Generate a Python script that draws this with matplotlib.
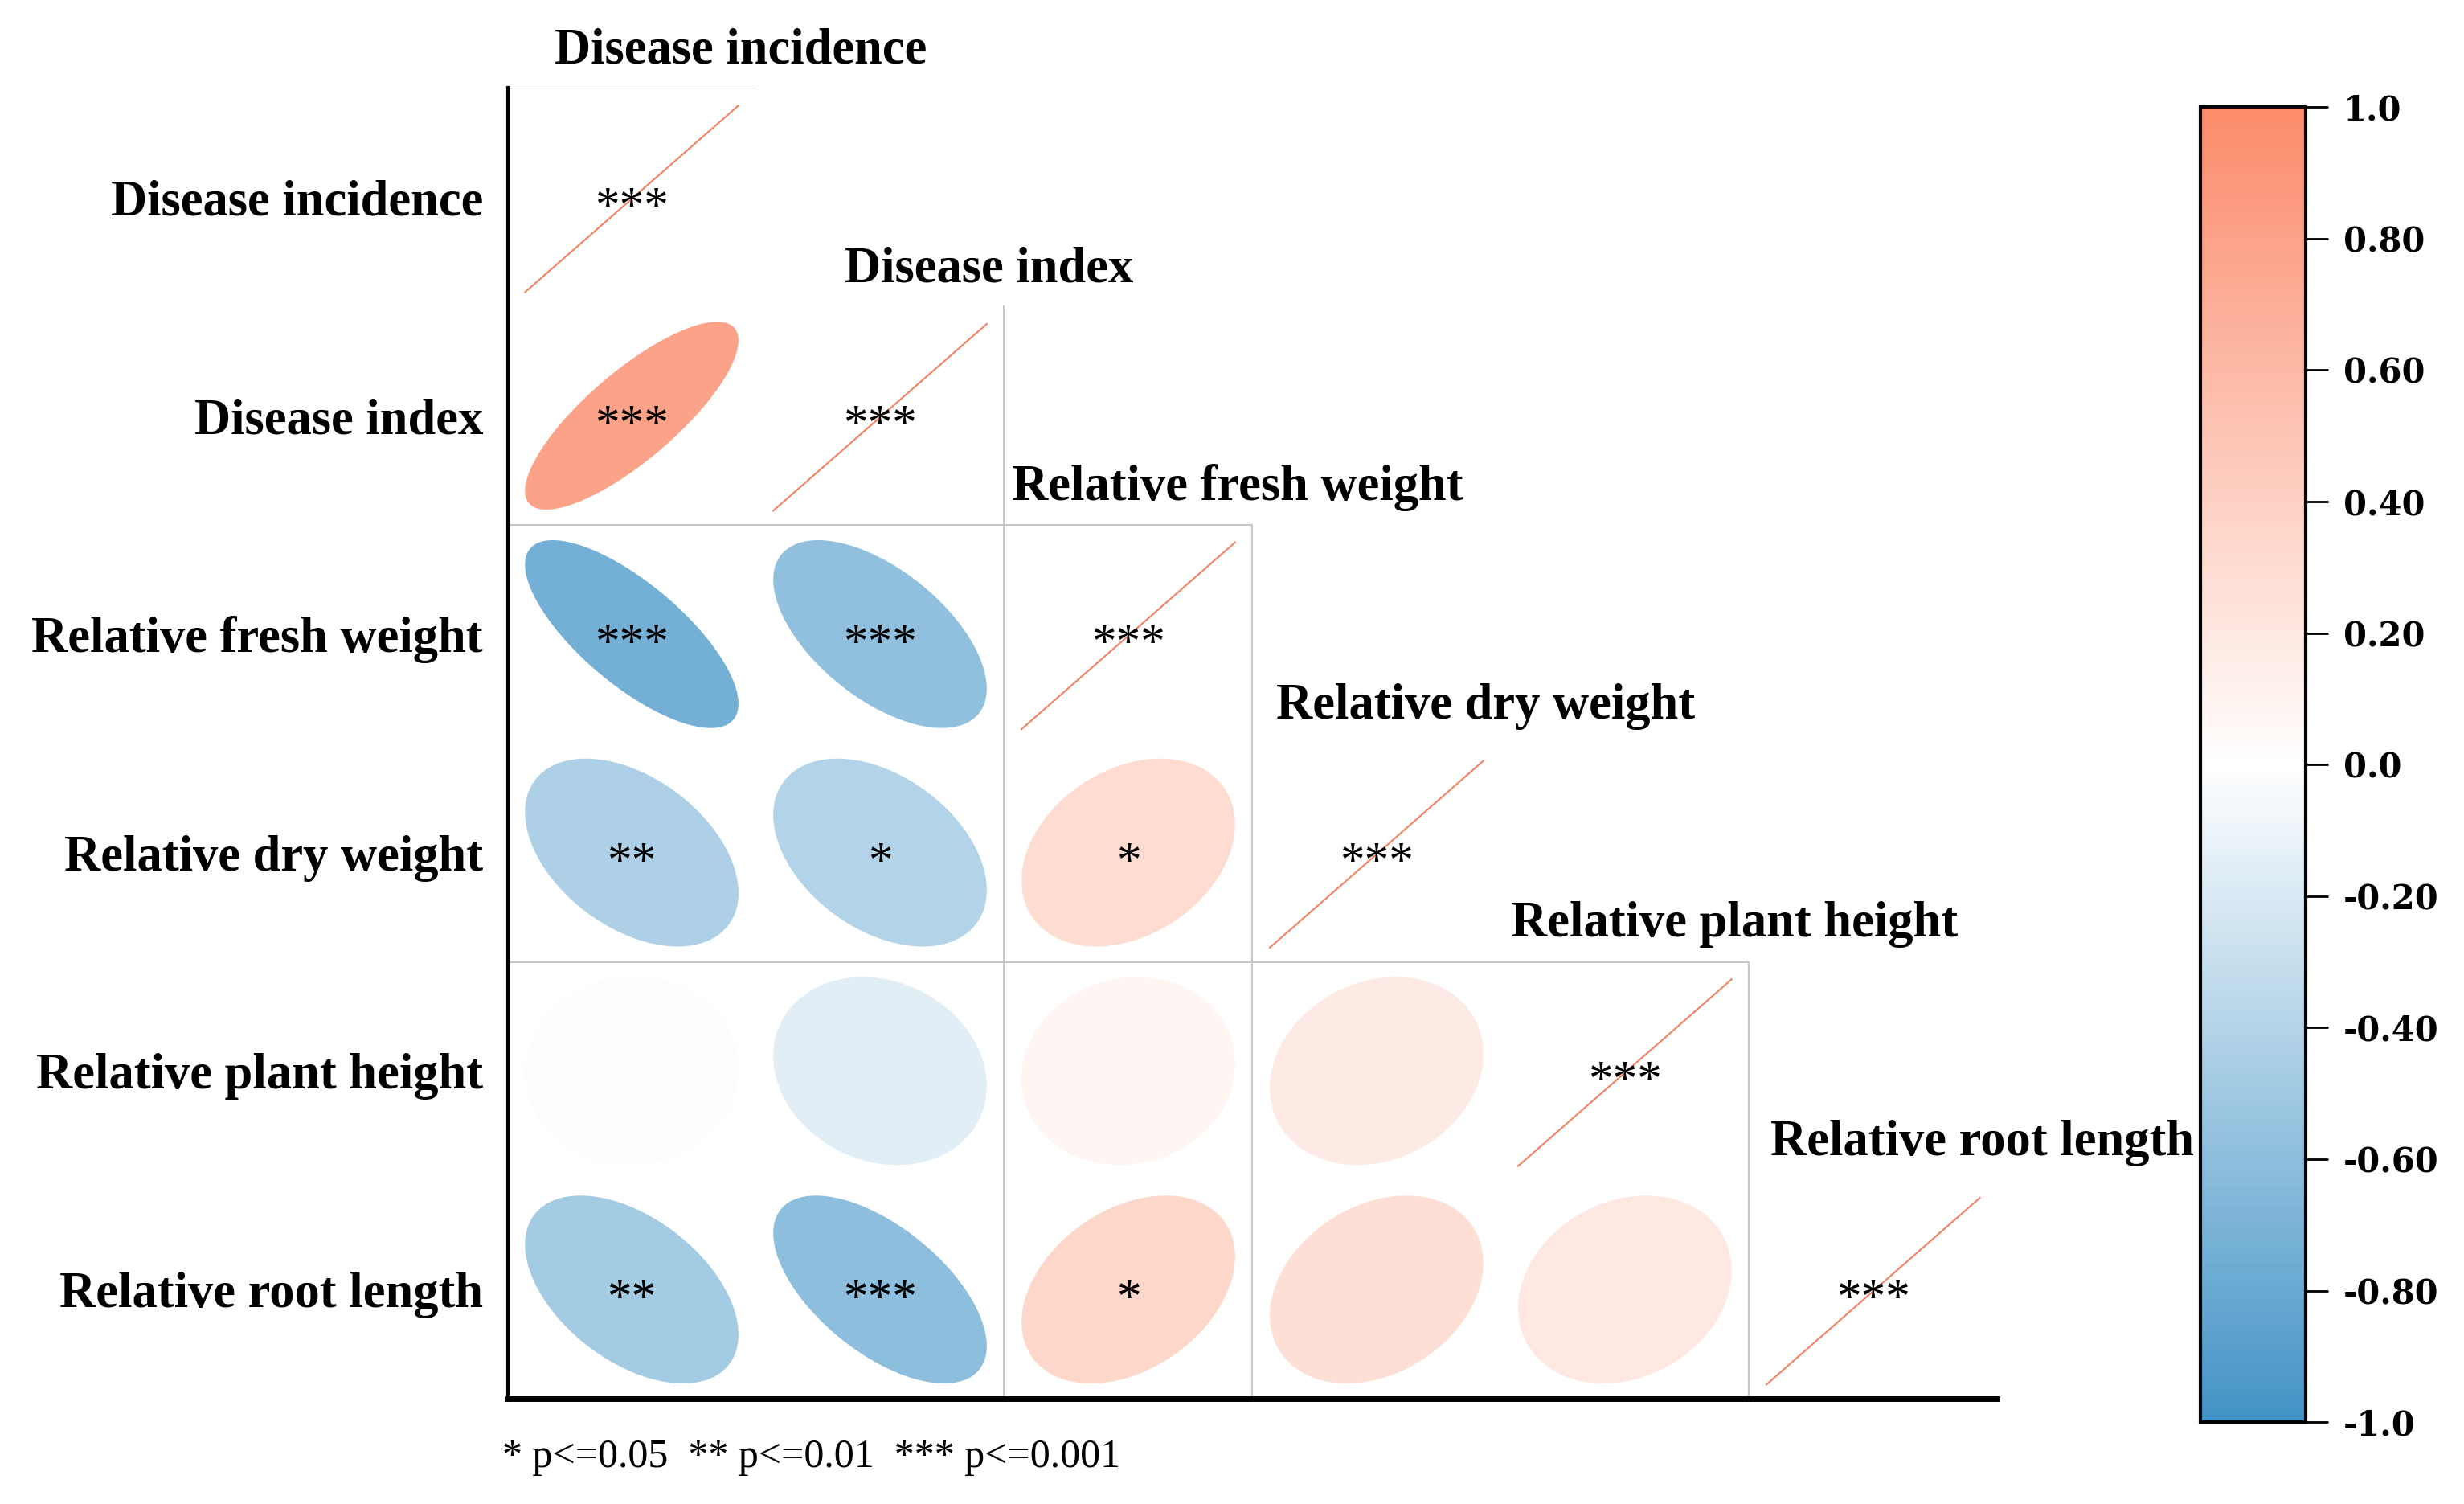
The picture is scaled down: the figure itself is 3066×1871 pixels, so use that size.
import numpy as np
import matplotlib
matplotlib.use("Agg")
import matplotlib.pyplot as plt
from matplotlib.patches import Polygon
from matplotlib.colors import LinearSegmentedColormap, Normalize
from matplotlib.cm import ScalarMappable

# variables (order of rows / columns)
labels = ["Disease incidence", "Disease index", "Relative fresh weight",
          "Relative dry weight", "Relative plant height", "Relative root length"]

# lower triangle of the correlation matrix (row i, columns 0..i)
corr = [
    [1.0],
    [0.80, 1.0],
    [-0.74, -0.58, 1.0],
    [-0.43, -0.40, 0.30, 1.0],
    [0.02, -0.16, 0.08, 0.18, 1.0],
    [-0.48, -0.60, 0.35, 0.28, 0.20, 1.0],
]
# significance marks
sig = [
    ["***"],
    ["***", "***"],
    ["***", "***", "***"],
    ["**", "*", "*", "***"],
    ["", "", "", "", "***"],
    ["**", "***", "*", "", "", "***"],
]
cbar_ticks = [-1.0, -0.8, -0.6, -0.4, -0.2, 0.0, 0.2, 0.4, 0.6, 0.8, 1.0]
cbar_labels = ["-1.0", "-0.80", "-0.60", "-0.40", "-0.20", "0.0",
               "0.20", "0.40", "0.60", "0.80", "1.0"]
note = "* p<=0.05  ** p<=0.01  *** p<=0.001"

cmap = LinearSegmentedColormap.from_list("corr", ["#4393c6", "#ffffff", "#fb8b6b"])
norm = Normalize(-1, 1)
serif = ["Liberation Serif", "DejaVu Serif"]

n = len(labels)
fig = plt.figure(figsize=(30.66, 18.71), dpi=100)
ax = fig.add_axes([0.206, 0.070, 0.6046, 0.8715])
ax.set_xlim(0, n)
ax.set_ylim(n, 0)

def ellipse(rho, cx, cy, s=0.86):
    # corrplot style ellipse
    t = np.linspace(0, 2 * np.pi, 200)
    d = np.arccos(rho)
    x = np.cos(t + d / 2) / 2 * s
    y = np.cos(t - d / 2) / 2 * s
    return np.column_stack([cx + x, cy - y])

for i in range(n):
    for j in range(i + 1):
        r = corr[i][j]
        cx, cy = j + 0.5, i + 0.5
        if i == j:
            ax.plot([j + 0.07, j + 0.93], [i + 0.935, i + 0.08], color="#f4805f", lw=1.5)
        else:
            ax.add_patch(Polygon(ellipse(r, cx, cy), closed=True,
                                 facecolor=cmap(norm(r)), edgecolor="none"))
        if sig[i][j]:
            ax.text(cx, cy + 0.05, sig[i][j], ha="center", va="center",
                    fontsize=44, family=serif, color="black")

# grid lines (block borders)
gcol = "#c8c8c8"
for k in [2, 3, 5]:
    ax.plot([k, k], [k - 1, n], color=gcol, lw=1.5)
for k in [0, 2, 4]:
    ax.plot([0, k + 1], [k, k], color=gcol, lw=1.5)

# column labels over the diagonal
for i, lab in enumerate(labels):
    ax.text(i + 0.94, i - 0.17, lab, ha="center", va="center",
            fontsize=45, family=serif, fontweight="bold", clip_on=False)

ax.set_yticks(np.arange(n) + 0.5)
ax.set_yticklabels(labels, fontsize=45, family=serif, fontweight="bold")
ax.set_xticks([])
ax.tick_params(axis="y", length=0, pad=22)
for s in ["top", "right"]:
    ax.spines[s].set_visible(False)
ax.spines["left"].set_linewidth(3)
ax.spines["bottom"].set_linewidth(5)

fig.text(0.204, 0.031, note, ha="left", va="center", fontsize=36, family=serif)

# colorbar
cax = fig.add_axes([0.893, 0.0543, 0.0427, 0.8746])
cb = fig.colorbar(ScalarMappable(norm=norm, cmap=cmap), cax=cax)
cb.set_ticks(cbar_ticks)
cb.set_ticklabels(cbar_labels)
cb.outline.set_linewidth(3)
cax.tick_params(length=20, width=2, pad=14)
for t in cax.get_yticklabels():
    t.set_fontfamily(["DejaVu Serif"])
    t.set_fontweight("bold")
    t.set_fontsize(30)

fig.savefig("out.png", dpi=100)
